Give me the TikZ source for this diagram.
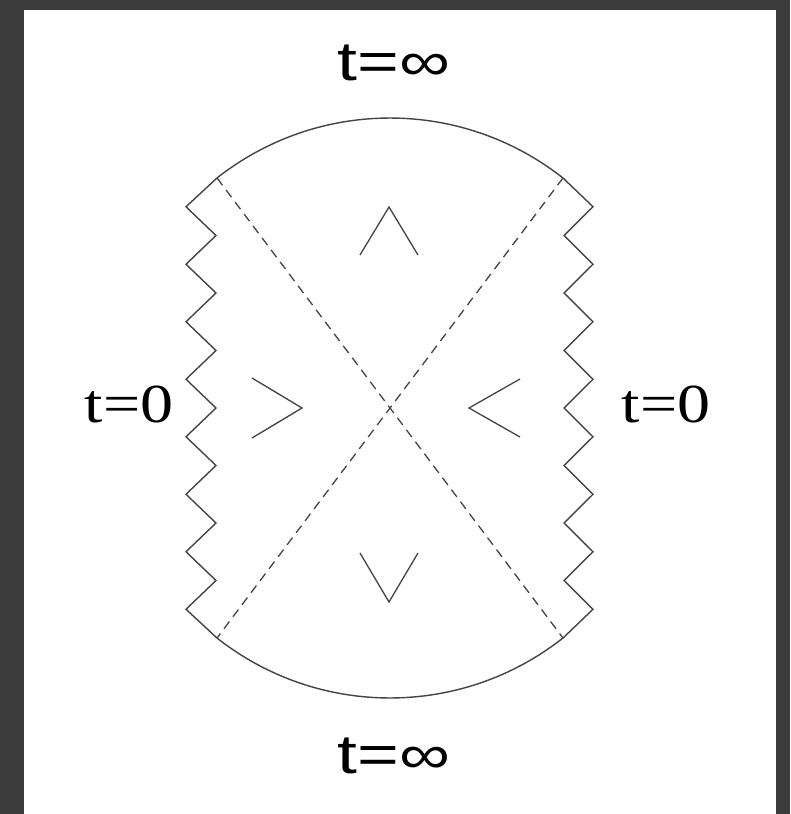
\documentclass[tikz,border=0pt]{standalone}
\usepackage{fontspec}
\setmainfont{Liberation Serif}
\newfontfamily\labsans{Liberation Sans}
\definecolor{slate}{HTML}{3C3C3C}
\definecolor{ink}{HTML}{444444}
\tikzset{
  wall/.style={draw=ink, line width=1.4pt, line join=miter},
  horizon/.style={draw=ink, line width=1.3pt, dash pattern=on 9pt off 6pt},
  region/.style={draw=ink, line width=1.3pt},
  tlab/.style={inner sep=0pt, anchor=base, font=\fontsize{55}{60}\selectfont},
}
\begin{document}
\begin{tikzpicture}[x=1pt, y=-1pt]
  % frame
  \fill[slate] (0,0) rectangle (790,814);
  \fill[white] (24,10) rectangle (776,814);
  \useasboundingbox (0,0) rectangle (790,814);
  % corners of the diagram
  \coordinate (tl) at (217,178);
  \coordinate (tr) at (563,178);
  \coordinate (bl) at (217,638);
  \coordinate (br) at (563,638);
  \coordinate (c) at (390,408);
  % future and past boundaries
  \draw[wall] (tl) arc[start angle=128.25, end angle=51.75, radius=279.4pt];
  \draw[wall] (bl) arc[start angle=231.75, end angle=308.25, radius=279.4pt];
  % singularities
  \draw[wall] (tl) \foreach \k in {1,...,15}{ -- ({isodd(\k) ? 186 : 216},{178+\k*28.75}) } -- (bl);
  \draw[wall] (tr) \foreach \k in {1,...,15}{ -- ({isodd(\k) ? 593 : 564},{178+\k*28.75}) } -- (br);
  % horizons
  \draw[horizon] (tl) -- (c) -- (br);
  \draw[horizon] (tr) -- (c) -- (bl);
  % region marks
  \draw[region] (360,255) -- (389,207) -- (418,255);
  \draw[region] (360,553) -- (389,602) -- (418,553);
  \draw[region] (252,378) -- (302,408) -- (252,438);
  \draw[region] (520,379) -- (469,408) -- (520,437);
  % labels
  \node[tlab] (top) at (394,80) {\labsans\scalebox{1.3}[1]{t=∞}};
  \node[tlab] (bottom) at (394,773) {\labsans\scalebox{1.3}[1]{t=∞}};
  \node[tlab] (left) at (129,422) {\scalebox{1.2}[1]{t=0}};
  \node[tlab] (right) at (666,422) {\scalebox{1.2}[1]{t=0}};
\end{tikzpicture}
\end{document}
